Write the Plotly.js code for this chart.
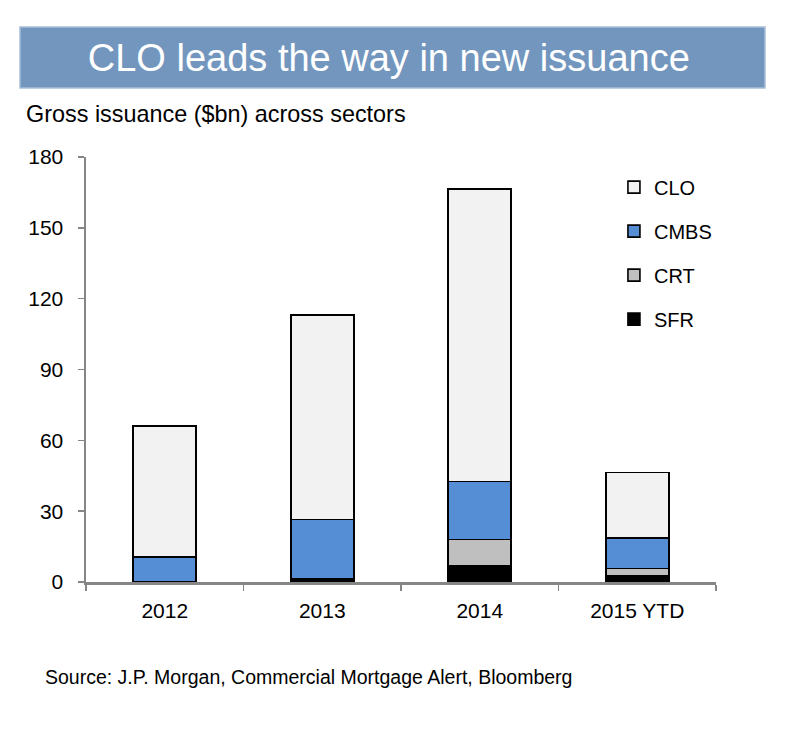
<!DOCTYPE html>
<html>
<head>
<meta charset="utf-8">
<script src="https://cdn.plot.ly/plotly-3.0.1.min.js"></script>
<style>
  html, body { margin: 0; padding: 0; background: #ffffff; }
  #chart { width: 800px; height: 744px; }
</style>
</head>
<body>
<div id="chart"></div>
<script>
// ---- Data ----
const years = ["2012", "2013", "2014", "2015 YTD"];
const seriesNames = ["SFR", "CRT", "CMBS", "CLO"];   // bottom to top of stack
const sfr  = [0.0, 1.5, 7.0, 2.7];
const crt  = [0.0, 0.0, 11.0, 3.0];
const cmbs = [10.5, 25.0, 24.5, 13.0];
const clo  = [55.5, 86.5, 124.0, 27.7];
const seriesColors = ["#000000", "#BFBFBF", "#558ED5", "#F2F2F2"];
const titleText = "CLO leads the way in new issuance";
const subtitleText = "Gross issuance ($bn) across sectors";
const sourceText = "Source: J.P. Morgan, Commercial Mortgage Alert, Bloomberg";

const values = [sfr, crt, cmbs, clo];
const baseFont = "Arial, 'Liberation Sans', sans-serif";

const traces = seriesNames.map((name, i) => ({
  type: "bar",
  name: name,
  x: years,
  y: values[i],
  legendgroup: name,
  legendrank: 1000 - i,
  marker: { color: seriesColors[i], line: { color: "#000000", width: 1.6 } },
  hoverinfo: "x+y+name"
}));

const layout = {
  width: 800,
  height: 744,
  paper_bgcolor: "#ffffff",
  plot_bgcolor: "#ffffff",
  barmode: "stack",
  bargap: 0.6,
  margin: { l: 86, r: 84, t: 157, b: 162 },
  showlegend: true,
  legend: {
    x: 0.838, xanchor: "left",
    y: 0.975, yanchor: "top",
    traceorder: "grouped",
    tracegroupgap: 15,
    font: { family: baseFont, size: 20, color: "#000000" },
    bgcolor: "rgba(0,0,0,0)"
  },
  title: {
    text: titleText,
    x: 0.486, xanchor: "center",
    y: 0.922, yanchor: "middle",
    font: { family: baseFont, size: 38, color: "#ffffff" }
  },
  xaxis: {
    type: "category",
    showline: true, linecolor: "#868686", linewidth: 2.5,
    ticks: "outside", tickson: "boundaries", ticklen: 6, tickcolor: "#868686", tickwidth: 1.5,
    showgrid: false, zeroline: false,
    tickfont: { family: baseFont, size: 21, color: "#000000" },
    ticklabelstandoff: 8
  },
  yaxis: {
    range: [0, 180],
    dtick: 30, tick0: 0,
    showline: true, linecolor: "#868686", linewidth: 2.5,
    ticks: "outside", ticklen: 6, tickcolor: "#868686", tickwidth: 1.5,
    showgrid: false, zeroline: false,
    tickfont: { family: baseFont, size: 21, color: "#000000" },
    ticklabelstandoff: 10
  },
  shapes: [
    {
      type: "rect", xref: "paper", yref: "paper", layer: "below",
      x0: -0.1048, x1: 1.0778, y0: 1.1624, y1: 1.3059,
      fillcolor: "#7396BE", line: { color: "#A9BFD8", width: 1.5 }
    }
  ],
  annotations: [
    {
      text: subtitleText, xref: "paper", yref: "paper",
      x: -0.099, xanchor: "left", y: 1.101, yanchor: "middle",
      showarrow: false, font: { family: baseFont, size: 23.4, color: "#000000" }
    },
    {
      text: sourceText, xref: "paper", yref: "paper",
      x: -0.0683, xanchor: "left", y: -0.2235, yanchor: "middle",
      showarrow: false, font: { family: baseFont, size: 19.5, color: "#000000" }
    }
  ]
};

Plotly.newPlot("chart", traces, layout, { displayModeBar: false, staticPlot: true });
</script>
</body>
</html>
